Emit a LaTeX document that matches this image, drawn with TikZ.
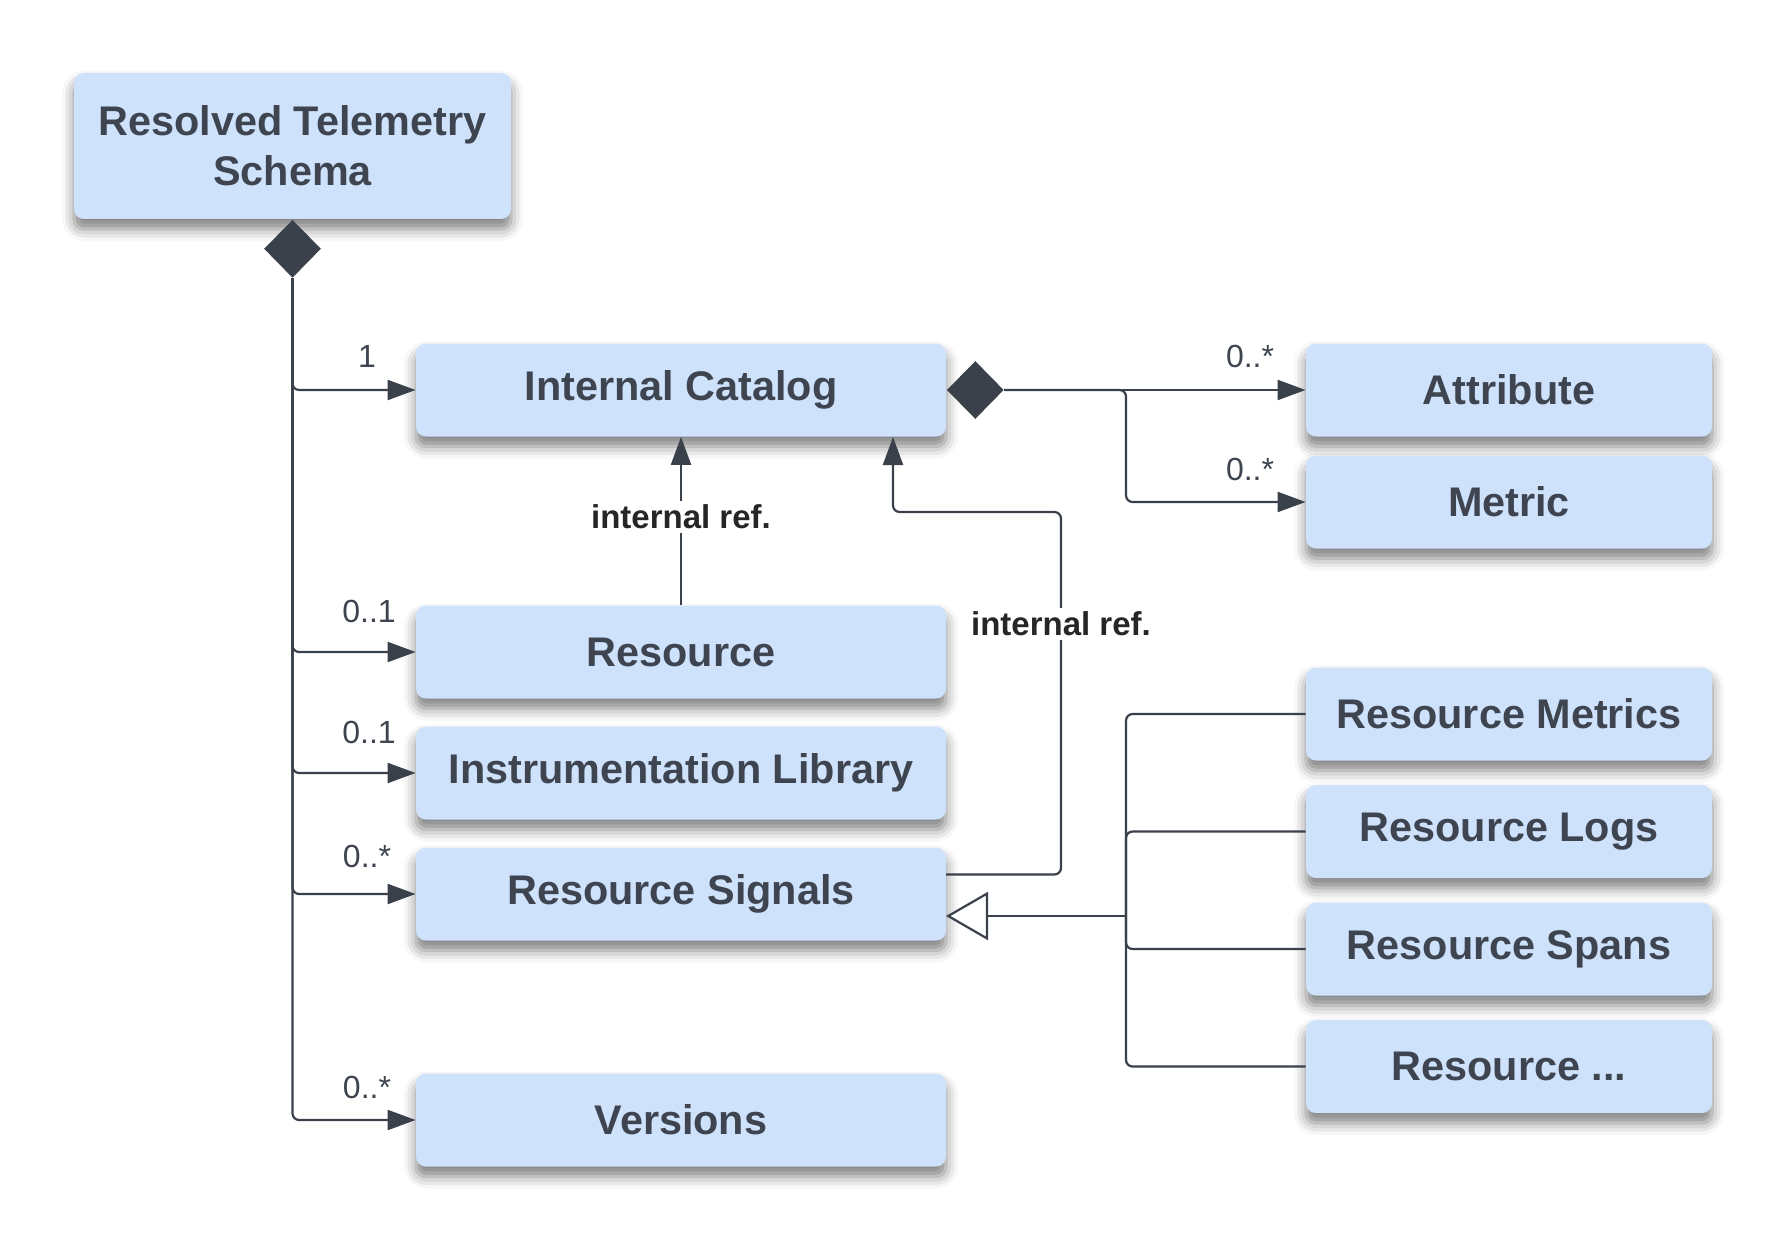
\documentclass[tikz,border=0pt]{standalone}
\usepackage{fontspec}
\setmainfont{Liberation Sans}
\usetikzlibrary{shapes.geometric, arrows.meta, shadows.blur}
\definecolor{boxblue}{RGB}{207,226,252}
\definecolor{inkgray}{RGB}{58,65,74}
\definecolor{textgray}{RGB}{62,69,80}

\begin{document}
\begin{tikzpicture}[x=0.5pt, y=-0.5pt]
        \useasboundingbox (0,0) rectangle (1787,1241);
        % Setup the styles for the boxes and links
        \tikzset{box style/.style={rectangle,
                                   rounded corners=5pt,
                                   fill=boxblue,
                                   text=textgray,
                                   inner sep=0pt,
                                   minimum width=265pt,
                                   minimum height=46.5pt,
                                   align=center,
                                   font=\bfseries\fontsize{20.7}{25}\selectfont,
                                   blur shadow={shadow xshift=0pt, shadow yshift=-5pt,
                                                shadow blur radius=6pt, shadow opacity=50}},
                 small box/.style={box style, minimum width=203pt},
                 comp style/.style={diamond, fill=inkgray, inner sep=0pt,
                                    minimum width=28.5pt, minimum height=29pt},
                 mult style/.style={text=textgray, inner sep=1pt,
                                    font=\fontsize{16}{19}\selectfont},
                 ref style/.style={fill=white, text=black!85, inner sep=2pt,
                                   font=\bfseries\fontsize{16.5}{19}\selectfont},
                 plain link/.style={draw=inkgray, line width=1.1pt, rounded corners=3.3pt},
                 link/.style={plain link, -{Triangle[length=14pt, width=10pt]}}}

        % Draw the boxes
        \node[box style, minimum width=218.5pt, minimum height=73pt] at (292.5,146) (schema) {Resolved Telemetry\\Schema};
        \node[box style] at (681,390)  (catalog)   {Internal Catalog};
        \node[box style] at (681,652)  (resource)  {Resource};
        \node[box style] at (681,773)  (instlib)   {Instrumentation Library};
        \node[box style] at (681,894)  (signals)   {Resource Signals};
        \node[box style] at (681,1120) (versions)  {Versions};
        \node[small box] at (1509,390)  (attribute) {Attribute};
        \node[small box] at (1509,502)  (metric)    {Metric};
        \node[small box] at (1509,714)  (rmetrics)  {Resource Metrics};
        \node[small box] at (1509,831.5) (rlogs)    {Resource Logs};
        \node[small box] at (1509,949)  (rspans)    {Resource Spans};
        \node[small box] at (1509,1066.5) (rmore)   {Resource ...};

        % Composition diamonds
        \node[comp style, anchor=north] at (schema.south) (schemadia)  {};
        \node[comp style, anchor=west]  at (catalog.east) (catalogdia) {};

        % Bend points
        \coordinate (catsplit) at (1126,390);
        \coordinate (sigjoin)  at (1126,916);
        \coordinate (sigtip)   at (946,916);
        \coordinate (refout)   at (946,874.5);
        \coordinate (refbend)  at (1061,512);
        \coordinate (refin)    at (893,437);

        % Connect the boxes
        \draw[link] (schemadia.south) |- (catalog.west);
        \draw[link] (schemadia.south) |- (resource.west);
        \draw[link] (schemadia.south) |- (instlib.west);
        \draw[link] (schemadia.south) |- (signals.west);
        \draw[link] (schemadia.south) |- (versions.west);

        \draw[link] (catalogdia.east) -- (attribute.west);
        \draw[link] (catalogdia.east) -- (catsplit) |- (metric.west);

        \draw[link] (resource.north) -- (catalog.south);
        \node[ref style] at (681,517) (refone) {internal ref.};
        \draw[link] (refout) -| (refbend) -| (refin);
        \node[ref style] at (1061,624) (reftwo) {internal ref.};

        \draw[plain link] (rmetrics.west) -| (sigjoin);
        \draw[plain link] (rlogs.west)    -| (sigjoin);
        \draw[plain link] (rspans.west)   -| (sigjoin);
        \draw[plain link] (rmore.west)    -| (sigjoin);
        \draw[plain link, -{Triangle[open, length=21pt, width=24pt, fill=white]}] (sigjoin) -- (sigtip);

        % Multiplicities
        \node[mult style] at (367,356)  (multcat)  {1};
        \node[mult style] at (369,611)  (multres)  {0..1};
        \node[mult style] at (369,732)  (multlib)  {0..1};
        \node[mult style] at (367,856)  (multsig)  {0..*};
        \node[mult style] at (367,1087) (multver)  {0..*};
        \node[mult style] at (1250,356) (multattr) {0..*};
        \node[mult style] at (1250,469) (multmet)  {0..*};
\end{tikzpicture}
\end{document}
